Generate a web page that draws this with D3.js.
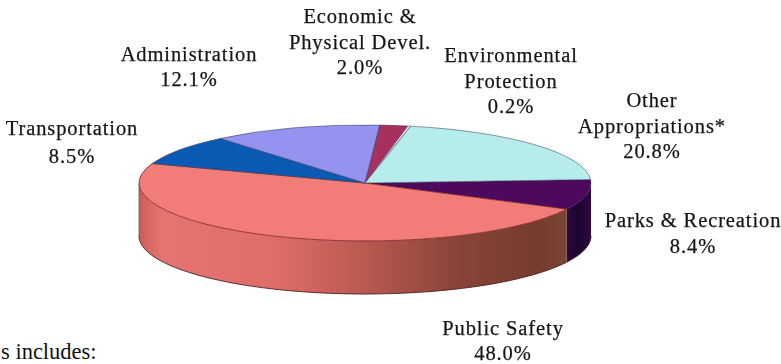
<!DOCTYPE html>
<html><head><meta charset="utf-8">
<script src="https://cdn.jsdelivr.net/npm/d3@7/dist/d3.min.js"></script>
<style>html,body{margin:0;padding:0;background:#fff;overflow:hidden}
text{font-family:"Liberation Serif",serif}
.lab{font-size:20.5px;letter-spacing:.9px;fill:#151515;stroke:#151515;stroke-width:.25px;filter:blur(.35px)}
.note{font-size:22.5px;fill:#111}</style>
</head><body><svg id="c" width="781" height="364"></svg>
<script>
const categories=["Parks & Recreation","Public Safety","Transportation","Administration","Economic & Physical Devel.","Environmental Protection","Other Appropriations*"];
const values=[8.4,48.0,8.5,12.1,2.0,0.2,20.8];
const topColors=["#4d0a5c","#f27c78","#0a5ab4","#9494f0","#a8305f","#e8f4f4","#b6eceb"];
const labelLines=[["Parks & Recreation","8.4%"],["Public Safety","48.0%"],["Transportation","8.5%"],["Administration","12.1%"],["Economic &","Physical Devel.","2.0%"],["Environmental","Protection","0.2%"],["Other","Appropriations*","20.8%"]];
const labelX=[693,503,72,189,360,511,652];
const labelY=[227,335,135,61,23,62,107];
const labelGap=[26,25,28,25,25.5,25.5,25.5];
const footnote="s includes:";

const cx=365,cy=183,rx=226,ry=58,depth=53;
const svg=d3.select("#c"),defs=svg.append("defs");
const start=Math.PI/2-0.06;
const pie=d3.pie().sort(null).value(d=>d).startAngle(start).endAngle(start+2*Math.PI);
const arcs=pie(values);
// d3 angle a: 0 at 12 o'clock, clockwise
const px=a=>cx+rx*Math.sin(a), py=(a,d=0)=>cy-ry*Math.cos(a)+d;
const line=d3.line().x(d=>d[0]).y(d=>d[1]);

function grad(id,stops){
  const g=defs.append("linearGradient").attr("id",id).attr("gradientUnits","userSpaceOnUse")
    .attr("x1",cx-rx).attr("x2",cx+rx).attr("y1",0).attr("y2",0);
  stops.forEach(s=>g.append("stop").attr("offset",s[0]).attr("stop-color",s[1]));
}
grad("wallSafety",[[0,"#d05c5a"],[.05,"#e57470"],[.3,"#e06c68"],[.5,"#b85a50"],[.7,"#8a4438"],[.88,"#753c30"],[.945,"#7a4436"]]);
grad("wallParks",[[.93,"#3a0848"],[.97,"#1c0530"],[1,"#2c0a40"]]);
const wallFill={0:"url(#wallParks)",1:"url(#wallSafety)"};

// side walls
arcs.forEach((d,i)=>{
  if(!(i in wallFill))return;
  const a0=Math.max(d.startAngle,Math.PI/2), a1=Math.min(d.endAngle,Math.PI*1.5);
  const pts=d3.range(0,61).map(k=>a0+(a1-a0)*k/60);
  const poly=pts.map(a=>[px(a),py(a)]).concat(pts.slice().reverse().map(a=>[px(a),py(a,depth)]));
  svg.append("path").attr("d",line(poly)+"Z").attr("fill",wallFill[i]);
});
// wall outline
{
  const left=Math.PI*1.5,right=Math.PI/2;
  const pts=d3.range(0,121).map(k=>right+(left-right)*k/120);
  svg.append("path").attr("d",line(pts.map(a=>[px(a),py(a,depth)]))).attr("fill","none").attr("stroke","#4a2028").attr("stroke-width",.9);
  svg.append("path").attr("d",line([[px(left),py(left)],[px(left),py(left,depth)]])).attr("stroke","#7a3a3e").attr("stroke-width",.7);
}
// top face
const arcGen=d3.arc().innerRadius(0).outerRadius(rx);
const face=svg.append("g").attr("transform",`translate(${cx},${cy}) scale(1,${ry/rx})`);
face.selectAll("path").data(arcs).join("path")
  .attr("d",arcGen).attr("fill",(d,i)=>topColors[i])
  .attr("stroke",(d,i)=>i===1?"#7a2226":"#40405a").attr("stroke-width",(d,i)=>i===1?1:.7)
  .attr("vector-effect","non-scaling-stroke").attr("stroke-opacity",(d,i)=>i===0?.3:.8);

// labels
categories.forEach((c,i)=>{
  const t=svg.append("text").attr("class","lab").attr("text-anchor","middle");
  labelLines[i].forEach((s,j)=>t.append("tspan").attr("x",labelX[i]).attr("y",labelY[i]+j*labelGap[i]).text(s));
});
svg.append("text").attr("class","note").attr("x",1).attr("y",359).text(footnote);
</script></body></html>
